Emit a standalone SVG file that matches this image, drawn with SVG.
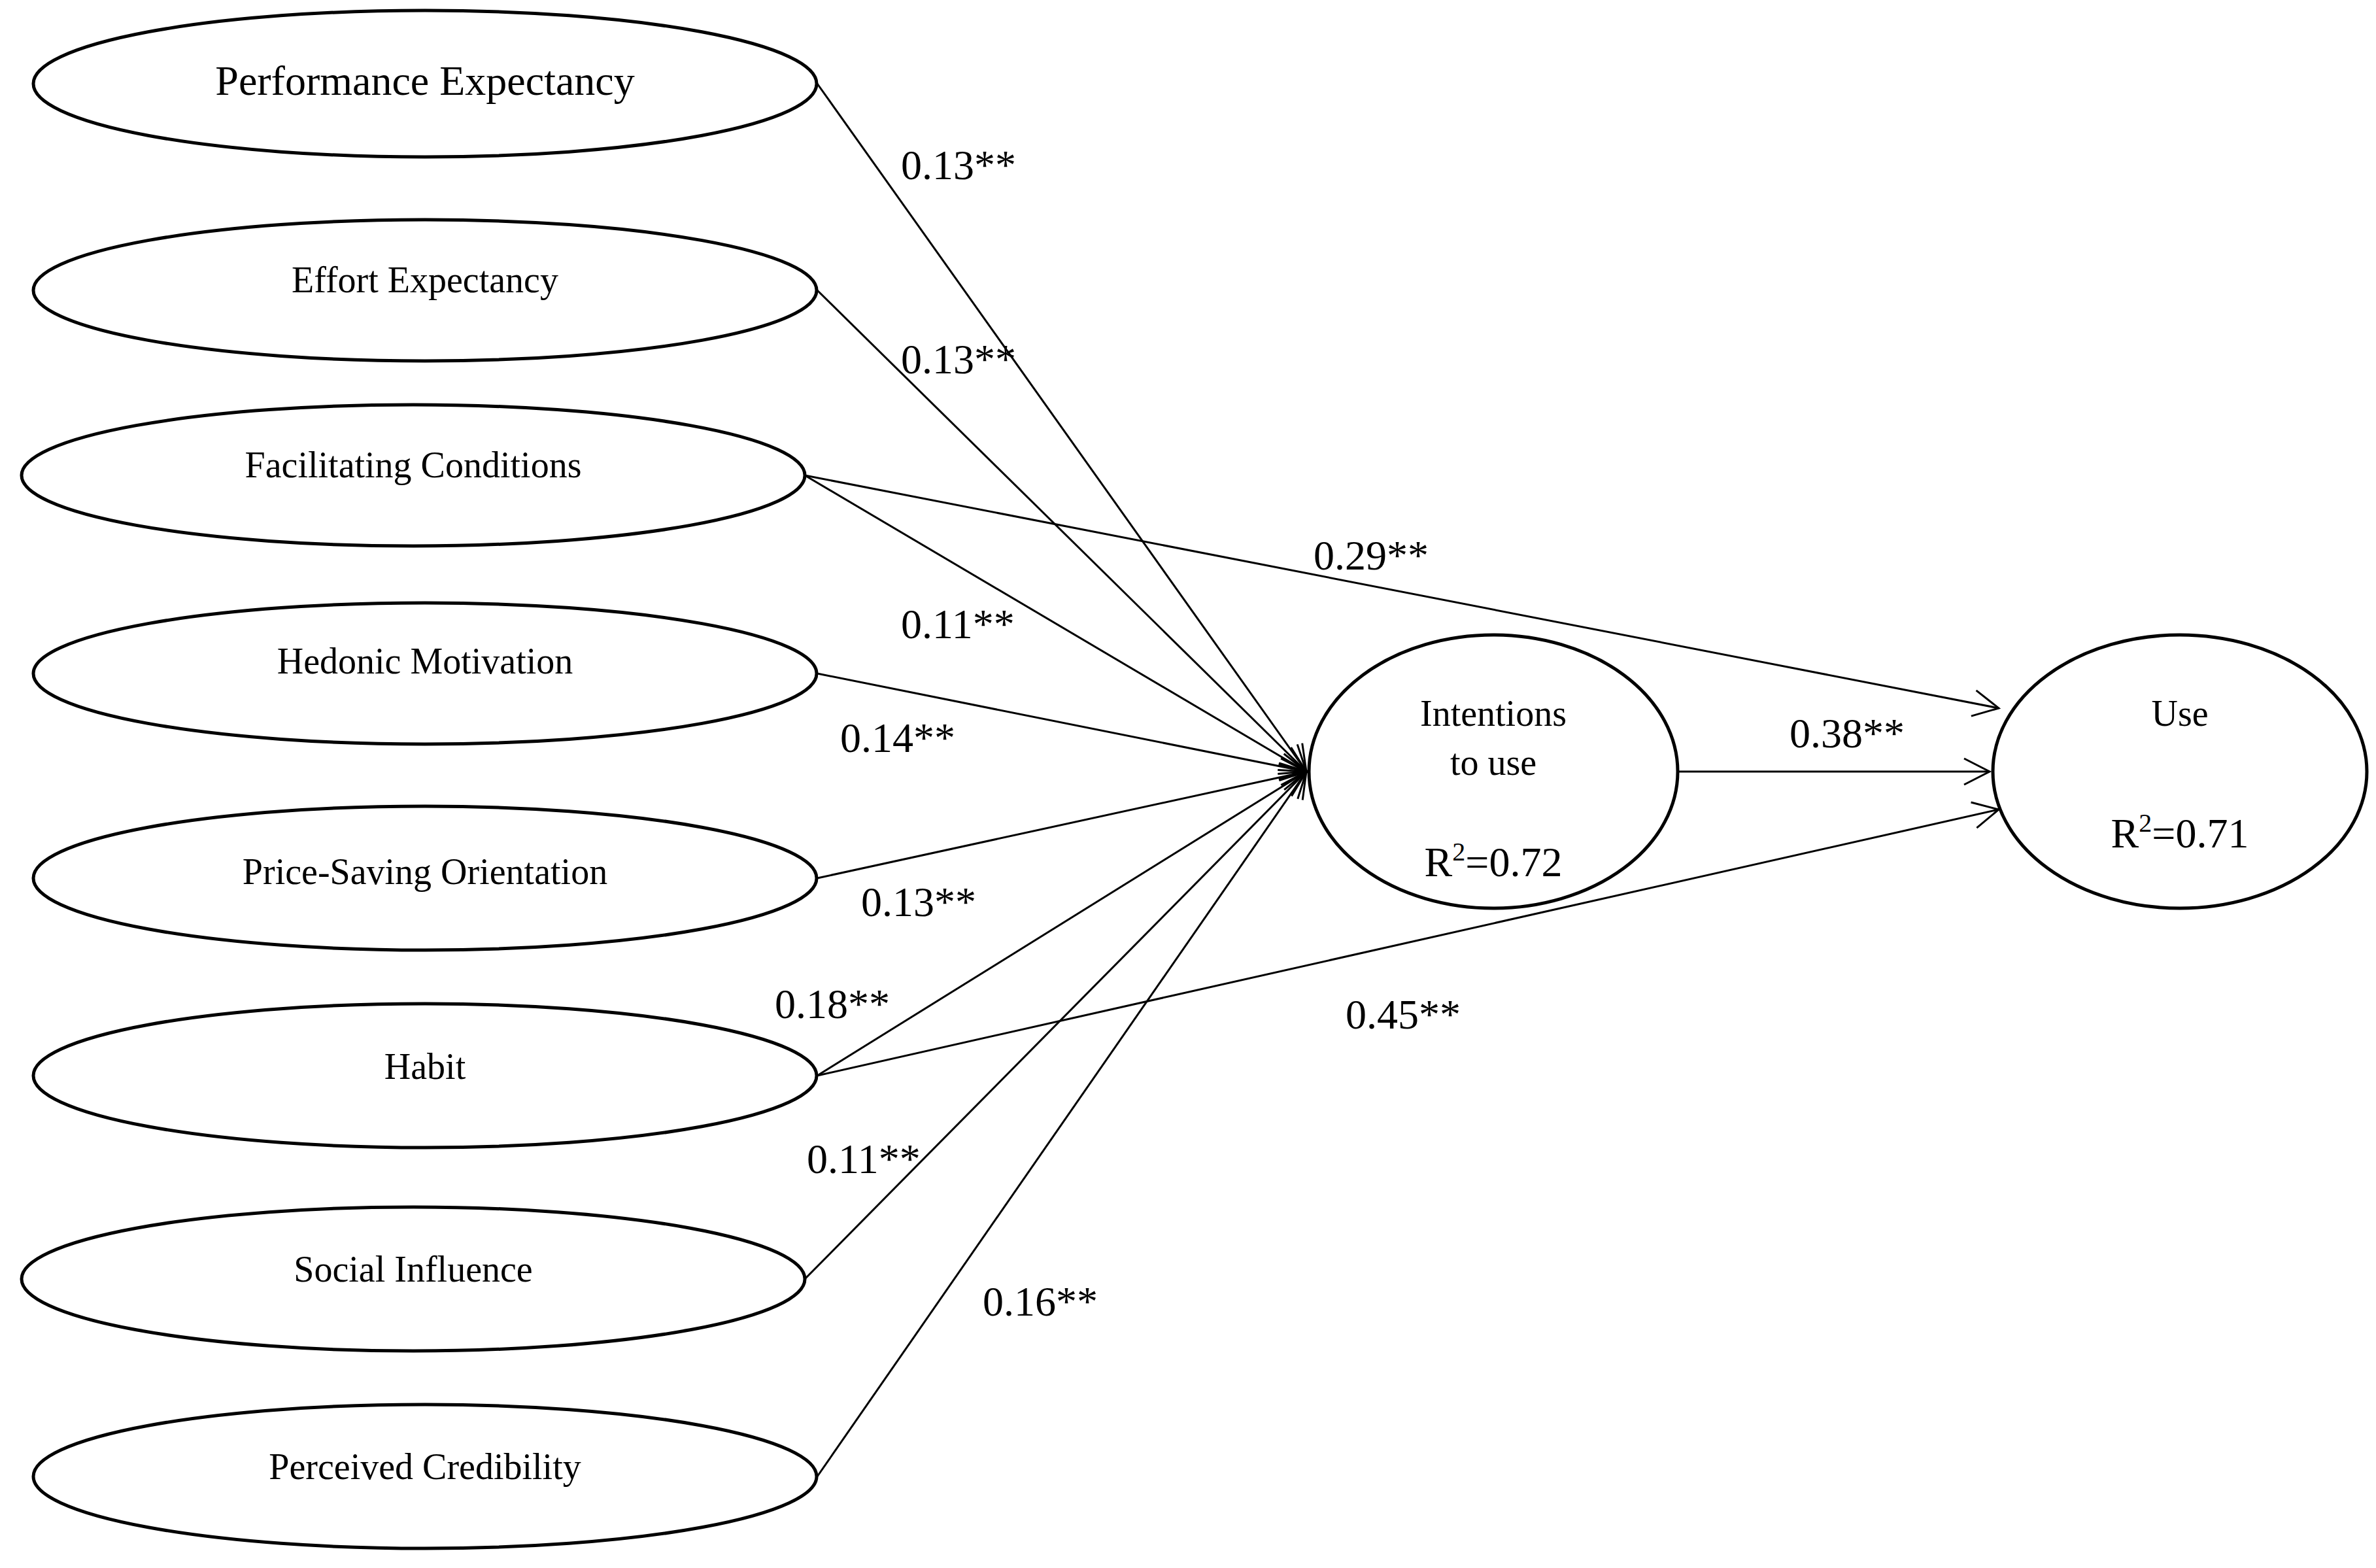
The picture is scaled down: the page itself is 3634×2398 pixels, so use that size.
<svg xmlns="http://www.w3.org/2000/svg" width="3634" height="2398" viewBox="0 0 3634 2398">
<style>
.n{fill:#fff;stroke:#000;stroke-width:5}
.t{font-family:"Liberation Serif",serif;font-size:56px;text-anchor:middle;fill:#000}
.l{font-family:"Liberation Serif",serif;font-size:64px;fill:#000}
.c{stroke:#000;stroke-width:3;fill:none;marker-end:url(#a)}
</style>
<defs>
<marker id="a" viewBox="0 0 20 20" refX="19" refY="10" markerWidth="20" markerHeight="20" markerUnits="userSpaceOnUse" orient="auto" overflow="visible">
<path d="M-20,-10 L19,10 L-20,30" fill="none" stroke="#000" stroke-width="3"/>
</marker>
</defs>
<rect width="3634" height="2398" fill="#fff"/>
<g id="connectors">
<line class="c" x1="1250" y1="128" x2="1998" y2="1180"/>
<line class="c" x1="1250" y1="444" x2="1998" y2="1180"/>
<line class="c" x1="1231" y1="727" x2="1998" y2="1180"/>
<line class="c" x1="1250" y1="1030" x2="1998" y2="1180"/>
<line class="c" x1="1250" y1="1343" x2="1998" y2="1180"/>
<line class="c" x1="1250" y1="1645" x2="1998" y2="1180"/>
<line class="c" x1="1231" y1="1956" x2="1998" y2="1180"/>
<line class="c" x1="1250" y1="2258" x2="1998" y2="1180"/>
<line class="c" x1="1231" y1="727" x2="3057" y2="1083"/>
<line class="c" x1="1250" y1="1645" x2="3057" y2="1238"/>
<line class="c" x1="2567" y1="1180" x2="3043" y2="1180"/>
</g>
<g id="pe"><ellipse class="n" cx="650" cy="128" rx="599" ry="112"/><text class="t" x="650" y="145" style="font-size:64px">Performance Expectancy</text></g>
<g id="ee"><ellipse class="n" cx="650" cy="444" rx="599" ry="108"/><text class="t" x="650" y="447">Effort Expectancy</text></g>
<g id="fc"><ellipse class="n" cx="632" cy="727" rx="599" ry="108"/><text class="t" x="632" y="730">Facilitating Conditions</text></g>
<g id="hm"><ellipse class="n" cx="650" cy="1030" rx="599" ry="108"/><text class="t" x="650" y="1030">Hedonic Motivation</text></g>
<g id="pso"><ellipse class="n" cx="650" cy="1343" rx="599" ry="110"/><text class="t" x="650" y="1352">Price-Saving Orientation</text></g>
<g id="habit"><ellipse class="n" cx="650" cy="1645" rx="599" ry="110"/><text class="t" x="650" y="1650">Habit</text></g>
<g id="si"><ellipse class="n" cx="632" cy="1956" rx="599" ry="110"/><text class="t" x="632" y="1960">Social Influence</text></g>
<g id="pc"><ellipse class="n" cx="650" cy="2258" rx="599" ry="110"/><text class="t" x="650" y="2262">Perceived Credibility</text></g>
<g id="intent"><ellipse class="n" cx="2284" cy="1180" rx="282" ry="209"/>
<text class="t" x="2284" y="1110">Intentions</text><text class="t" x="2284" y="1185">to use</text>
<text class="t" x="2284" y="1340" style="font-size:64px">R<tspan dy="-24" font-size="40">2</tspan><tspan dy="24">=0.72</tspan></text></g>
<g id="use"><ellipse class="n" cx="3334" cy="1180" rx="286" ry="209"/>
<text class="t" x="3334" y="1110">Use</text>
<text class="t" x="3334" y="1296" style="font-size:64px">R<tspan dy="-24" font-size="40">2</tspan><tspan dy="24">=0.71</tspan></text></g>
<g id="labels">
<text class="l" x="1378" y="274">0.13**</text>
<text class="l" x="1378" y="571">0.13**</text>
<text class="l" x="2009" y="871">0.29**</text>
<text class="l" x="1378" y="976">0.11**</text>
<text class="l" x="1285" y="1150">0.14**</text>
<text class="l" x="2737" y="1143">0.38**</text>
<text class="l" x="1317" y="1401">0.13**</text>
<text class="l" x="1185" y="1557">0.18**</text>
<text class="l" x="2058" y="1573">0.45**</text>
<text class="l" x="1234" y="1794">0.11**</text>
<text class="l" x="1503" y="2012">0.16**</text>
</g>
</svg>
